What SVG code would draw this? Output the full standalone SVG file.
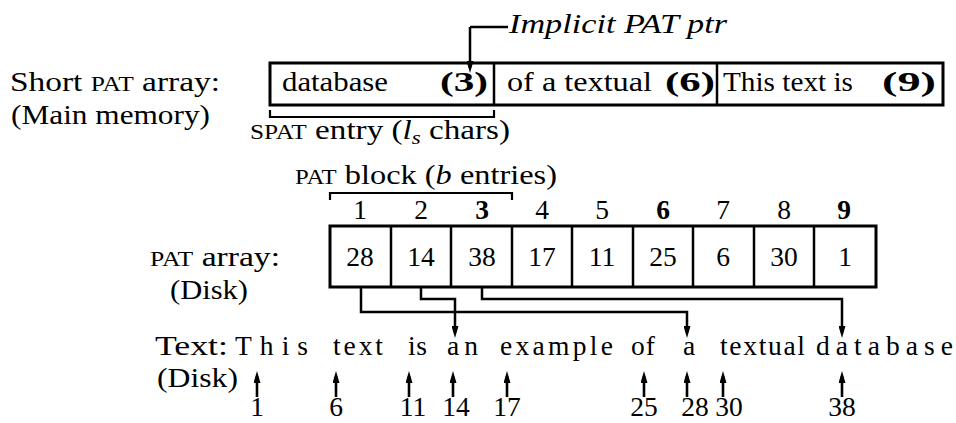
<svg xmlns="http://www.w3.org/2000/svg" width="956" height="423" viewBox="0 0 956 423" font-family="Liberation Serif, DejaVu Serif, serif">
<style>
text { font-family: 'Liberation Serif', 'DejaVu Serif', serif; font-size: 27.5px; fill: #000; }
.sc { font-size: 21px; }
.b { font-weight: bold; }
.i { font-style: italic; }
.mid { text-anchor: middle; }
.box { fill: none; stroke: #000; stroke-width: 3; }
.div { stroke: #000; stroke-width: 2.5; }
.br { fill: none; stroke: #000; stroke-width: 2.2; }
.conn { fill: none; stroke: #000; stroke-width: 2.5; }
.up { fill: none; stroke: #000; stroke-width: 2.6; }
</style>
<defs>
<marker id="ah" markerUnits="userSpaceOnUse" markerWidth="12" markerHeight="7" refX="7" refY="3.5" orient="auto">
<path d="M0,0 L12,3.5 L0,7 z" fill="#000"/>
</marker>
</defs>

<g id="short-pat-label">
<text x="10" y="91" textLength="210" lengthAdjust="spacingAndGlyphs">Short <tspan class="sc">PAT</tspan> array:</text>
<text x="11" y="124" textLength="199" lengthAdjust="spacingAndGlyphs">(Main memory)</text>
</g>

<g id="short-pat-array">
<rect class="box" x="270" y="63" width="673" height="42"/>
<line class="div" x1="494" y1="63" x2="494" y2="105"/>
<line class="div" x1="717" y1="63" x2="717" y2="105"/>
<text x="282" y="91" textLength="106" lengthAdjust="spacingAndGlyphs">database</text>
<text class="b" x="440" y="91" textLength="48" lengthAdjust="spacingAndGlyphs">(3)</text>
<text x="507" y="91" textLength="145" lengthAdjust="spacingAndGlyphs">of a textual</text>
<text class="b" x="665" y="91" textLength="50" lengthAdjust="spacingAndGlyphs">(6)</text>
<text x="723" y="91" textLength="130" lengthAdjust="spacingAndGlyphs">This text is</text>
<text class="b" x="882" y="91" textLength="54" lengthAdjust="spacingAndGlyphs">(9)</text>
</g>

<g id="implicit-ptr">
<text class="i" x="509" y="33" textLength="218" lengthAdjust="spacingAndGlyphs">Implicit PAT ptr</text>
</g>

<g id="spat-entry">
<path class="br" d="M270,110 V117 H494 V110"/>
<text x="250" y="139" textLength="260" lengthAdjust="spacingAndGlyphs"><tspan class="sc">SPAT</tspan> entry (<tspan class="i">l</tspan><tspan class="i" font-size="19" dy="5">s</tspan><tspan dy="-5"> chars)</tspan></text>
</g>

<g id="pat-block">
<text x="295" y="184" textLength="262" lengthAdjust="spacingAndGlyphs"><tspan class="sc">PAT</tspan> block (<tspan class="i">b</tspan> entries)</text>
<path class="br" d="M330,200 V193 H512 V200"/>
</g>

<g id="pat-indices">
<text class="mid" x="360" y="219">1</text>
<text class="mid" x="421" y="219">2</text>
<text class="mid b" x="482" y="219">3</text>
<text class="mid" x="542" y="219">4</text>
<text class="mid" x="602" y="219">5</text>
<text class="mid b" x="663" y="219">6</text>
<text class="mid" x="723" y="219">7</text>
<text class="mid" x="784" y="219">8</text>
<text class="mid b" x="844" y="219">9</text>
</g>

<g id="pat-array-label">
<text x="150" y="266" textLength="130" lengthAdjust="spacingAndGlyphs"><tspan class="sc">PAT</tspan> array:</text>
<text x="170" y="299" textLength="78" lengthAdjust="spacingAndGlyphs">(Disk)</text>
</g>

<g id="pat-array">
<rect class="box" x="330" y="226" width="546" height="61"/>
<line class="div" x1="391" y1="226" x2="391" y2="287"/>
<line class="div" x1="451" y1="226" x2="451" y2="287"/>
<line class="div" x1="512" y1="226" x2="512" y2="287"/>
<line class="div" x1="572" y1="226" x2="572" y2="287"/>
<line class="div" x1="633" y1="226" x2="633" y2="287"/>
<line class="div" x1="693" y1="226" x2="693" y2="287"/>
<line class="div" x1="754" y1="226" x2="754" y2="287"/>
<line class="div" x1="814" y1="226" x2="814" y2="287"/>
<text class="mid" x="360" y="266">28</text>
<text class="mid" x="421" y="266">14</text>
<text class="mid" x="482" y="266">38</text>
<text class="mid" x="542" y="266">17</text>
<text class="mid" x="602" y="266">11</text>
<text class="mid" x="663" y="266">25</text>
<text class="mid" x="723" y="266">6</text>
<text class="mid" x="784" y="266">30</text>
<text class="mid" x="845" y="266">1</text>
</g>

<g id="connectors">
<path class="conn" d="M470,27 H508 M470,27 V68" marker-end="url(#ah)"/>
<path class="conn" d="M361,287 V312 H687 V333" marker-end="url(#ah)"/>
<path class="conn" d="M421,287 V299 H455 V333" marker-end="url(#ah)"/>
<path class="conn" d="M482,287 V299 H842 V333" marker-end="url(#ah)"/>
</g>

<g id="text-line">
<text x="155" y="355" textLength="73" lengthAdjust="spacingAndGlyphs">Text:</text>
<text x="157" y="387" textLength="81" lengthAdjust="spacingAndGlyphs">(Disk)</text>
<text x="235" y="355" textLength="73" lengthAdjust="spacing">This</text>
<text x="333" y="355" textLength="50" lengthAdjust="spacing">text</text>
<text x="408" y="355" textLength="19" lengthAdjust="spacing">is</text>
<text x="447" y="355" textLength="31" lengthAdjust="spacing">an</text>
<text x="500" y="355" textLength="113" lengthAdjust="spacing">example</text>
<text x="631" y="355" textLength="24" lengthAdjust="spacing">of</text>
<text x="683" y="355">a</text>
<text x="720" y="355" textLength="85" lengthAdjust="spacing">textual</text>
<text x="816" y="355" textLength="137" lengthAdjust="spacing">database</text>
</g>

<g id="position-arrows">
<path class="up" d="M257,397 V376" marker-end="url(#ah)"/>
<path class="up" d="M336,397 V376" marker-end="url(#ah)"/>
<path class="up" d="M409,397 V376" marker-end="url(#ah)"/>
<path class="up" d="M453,397 V376" marker-end="url(#ah)"/>
<path class="up" d="M507,397 V376" marker-end="url(#ah)"/>
<path class="up" d="M644,397 V376" marker-end="url(#ah)"/>
<path class="up" d="M687,397 V376" marker-end="url(#ah)"/>
<path class="up" d="M723,397 V376" marker-end="url(#ah)"/>
<path class="up" d="M842,397 V376" marker-end="url(#ah)"/>
</g>

<g id="positions">
<text class="mid" x="257" y="416">1</text>
<text class="mid" x="336" y="416">6</text>
<text class="mid" x="413" y="416">11</text>
<text class="mid" x="456" y="416">14</text>
<text class="mid" x="507" y="416">17</text>
<text class="mid" x="644" y="416">25</text>
<text class="mid" x="695" y="416">28</text>
<text class="mid" x="729" y="416">30</text>
<text class="mid" x="842" y="416">38</text>
</g>
</svg>
